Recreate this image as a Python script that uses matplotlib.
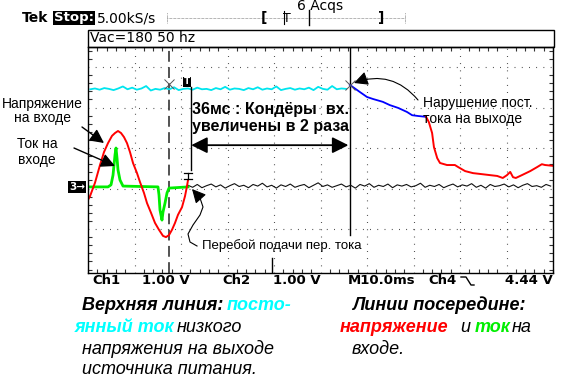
import matplotlib
matplotlib.use("Agg")
import matplotlib.pyplot as plt
import numpy as np
from matplotlib.lines import Line2D
from matplotlib.patches import Rectangle
from matplotlib.ticker import MultipleLocator

# time in ms (10 ms/div), amplitude in divisions (0 = screen centre)
cyan_y = [1.45, 1.47, 1.44, 1.48, 1.46, 1.43, 1.47, 1.52, 1.45, 1.49,
          1.44, 1.47, 1.53, 1.42, 1.46, 1.44, 1.48, 1.45, 1.50, 1.43,
          1.46, 1.47, 1.44, 1.49, 1.45, 1.46, 1.43, 1.48, 1.45, 1.51,
          1.44, 1.47, 1.46, 1.43, 1.48, 1.45, 1.50, 1.44, 1.47, 1.45,
          1.52, 1.43, 1.46, 1.48, 1.44, 1.47, 1.45, 1.49, 1.43, 1.51,
          1.46, 1.44, 1.53, 1.45, 1.47, 1.46]
cyan_t = 0.5 + np.arange(len(cyan_y))

blue_t = [56.3, 58.5, 60.0, 61.3, 63.4, 64.9, 66.7, 68.6, 69.7, 71.0, 72.7]
blue_y = [1.56, 1.38, 1.26, 1.21, 1.14, 1.06, 0.99, 0.89, 0.81, 0.79, 0.77]

red_out_t = [72.7, 73.3, 74.0, 74.4, 75.1, 75.7, 77.2, 78.9, 79.6, 81.1,
             82.8, 84.3, 86.5, 88.0, 89.2, 90.1, 90.8, 91.4, 92.0, 93.3,
             95.1, 96.6, 97.6, 98.3, 100.0]
red_out_y = [0.77, 0.64, 0.37, 0.02, -0.25, -0.37, -0.42, -0.42, -0.47, -0.57,
             -0.62, -0.64, -0.67, -0.69, -0.74, -0.67, -0.59, -0.72, -0.74, -0.67,
             -0.57, -0.47, -0.40, -0.42, -0.44]

volt_t = [0.0, 0.43, 1.5, 2.58, 3.44, 4.30, 5.16, 5.81, 6.45, 7.10,
          7.74, 8.39, 9.03, 9.68, 10.54, 11.18, 12.04, 12.69, 13.55, 14.41,
          15.27, 16.13, 16.77, 17.42, 18.06, 18.71, 19.35, 20.22, 20.86, 21.29,
          21.51]
volt_y = [-1.28, -1.19, -0.86, -0.42, -0.10, 0.12, 0.30, 0.37, 0.42, 0.37,
          0.27, 0.12, -0.10, -0.37, -0.62, -0.84, -1.11, -1.36, -1.60, -1.85,
          -2.02, -2.17, -2.20, -2.15, -2.02, -1.85, -1.65, -1.46, -1.19, -0.94,
          -0.79]

cur_t = [0.0, 4.30, 4.95, 5.38, 5.81, 6.02, 6.24, 6.45, 6.88, 7.53,
         15.05, 15.27, 15.48, 15.91, 16.13, 16.56, 16.99, 17.42, 21.51]
cur_y = [-0.96, -0.96, -0.91, -0.67, -0.17, 0.0, -0.25, -0.54, -0.79, -0.94,
         -0.96, -1.16, -1.53, -1.78, -1.58, -1.36, -1.11, -0.99, -0.96]

black_y = [-0.92, -0.97, -0.90, -0.98, -0.93, -0.89, -0.96, -0.91, -0.99, -0.93,
           -0.88, -0.95, -0.92, -0.98, -0.90, -0.94, -0.87, -0.96, -0.92, -0.99,
           -0.91, -0.95, -0.89, -0.97, -0.93, -0.90, -0.98, -0.92, -0.86, -0.95,
           -0.91, -0.97, -0.93, -0.89, -0.96, -0.92, -0.99, -0.90, -0.94, -0.88,
           -0.97, -0.92, -0.95, -0.89, -0.98, -0.91, -0.94, -0.90, -0.96, -0.93,
           -0.87, -0.97, -0.92, -0.95, -0.90, -0.98, -0.93, -0.89, -0.96, -0.91,
           -0.94, -0.88, -0.97, -0.92, -0.99, -0.90, -0.95, -0.93, -0.89, -0.96,
           -0.91, -0.98, -0.92, -0.88, -0.95, -0.93, -0.97, -0.90, -0.94]
black_t = 21.5 + np.arange(len(black_y))

trig_t = 17.4
cursor_t = 56.3
cursor_bottom = -2.15

W, H = 561, 382
Y0, Y1 = -3.086, 2.494


def fp(px, py):
    return (px / W, 1 - py / H)


fig = plt.figure(figsize=(W / 100, H / 100), dpi=100)
ax = fig.add_axes([88 / W, 1 - 273 / H, 465 / W, 226 / H])
ax.set_xlim(0, 100)
ax.set_ylim(Y0, Y1)

# graticule
ax.set_xticks(np.arange(10, 100, 10))
ax.set_yticks([-2, -1, 0, 1, 2])
ax.grid(True, color='#222222', lw=0.8, linestyle=(0, (0.7, 5.8)))
ax.xaxis.set_minor_locator(MultipleLocator(2))
ax.yaxis.set_minor_locator(MultipleLocator(0.2))
ax.tick_params(which='major', length=0, labelbottom=False, labelleft=False)
ax.tick_params(which='minor', direction='in', length=3, width=0.8,
               top=True, right=True, color='#333333')
for s in ax.spines.values():
    s.set_color('black')
    s.set_linewidth(1.0)

ax.axvline(trig_t, color='#444444', lw=1.3, linestyle=(0, (6, 3)))
ax.axvline(cursor_t, ymin=(cursor_bottom - Y0) / (Y1 - Y0), ymax=1, color='black', lw=1.0)
ax.axvline(39.6, ymin=0, ymax=15 / 226, color='black', lw=1.0)

# traces
ax.plot(black_t, black_y, color='#111111', lw=0.8)
ax.plot(cyan_t, cyan_y, color='#00e5ee', lw=1.3)
ax.plot(blue_t, blue_y, color='#0000ff', lw=1.3)
ax.plot(red_out_t, red_out_y, color='#ff0000', lw=1.4)
ax.plot(cur_t, cur_y, color='#00ee00', lw=2.0)
ax.plot(volt_t, volt_y, color='#ff0000', lw=1.4)

ax.plot([trig_t, cursor_t], [1.58, 1.56], linestyle='none', marker='x',
        ms=7, mew=0.7, color='#555555')

# vertical marker line and span arrow
ax.plot([22.2, 22.2], [1.51, -0.54], color='black', lw=1.0)
ax.annotate('', xy=(cursor_t - 0.3, 0.07), xytext=(22.2, 0.07),
            arrowprops=dict(arrowstyle='<|-|>,head_length=0.7,head_width=0.35',
                            mutation_scale=14, color='black', lw=1.3,
                            shrinkA=0, shrinkB=0))

# top header
fig.text(*fp(22, 18), 'Tek', fontsize=10, fontweight='bold', va='center')
fig.text(*fp(54, 18), 'Stop:', fontsize=9.5, fontweight='bold', color='white',
         va='center', bbox=dict(fc='black', ec='none', pad=0.6))
fig.text(*fp(97, 18), '5.00kS/s', fontsize=10, va='center')
fig.add_artist(Line2D([167 / W, 405 / W], [1 - 18 / H] * 2, transform=fig.transFigure,
                      color='#555555', lw=0.6, linestyle=(0, (0.6, 1.0))))
for bx in [167, 405]:
    fig.add_artist(Line2D([bx / W] * 2, [1 - 13 / H, 1 - 23 / H],
                          transform=fig.transFigure, color='#555555', lw=0.6,
                          linestyle=(0, (0.6, 1.0))))
fig.text(*fp(261, 18), '[', fontsize=10, fontweight='bold', va='center')
fig.text(*fp(378, 18), ']', fontsize=10, fontweight='bold', va='center')
fig.text(*fp(283, 18), 'T', fontsize=9, va='center')
fig.add_artist(Line2D([284 / W] * 2, [1 - 11 / H, 1 - 24 / H],
                      transform=fig.transFigure, color='black', lw=0.8))
fig.add_artist(Line2D([309 / W] * 2, [1 - 10 / H, 1 - 25 / H],
                      transform=fig.transFigure, color='black', lw=1.0))
fig.text(*fp(297, 6), '6 Acqs', fontsize=10, va='center')

# Vac box
fig.patches.append(Rectangle(fp(88, 47), 466 / W, 17 / H, transform=fig.transFigure,
                             fill=False, ec='black', lw=1.0))
fig.text(*fp(90, 38), 'Vac=180 50 hz', fontsize=10, va='center')

# bottom scope readout
for px, s in [(92, 'Ch1'), (142, '1.00 V'), (222, 'Ch2'), (273, '1.00 V'),
              (348, 'M10.0ms'), (428, 'Ch4'), (505, '4.44 V')]:
    fig.text(*fp(px, 281), s, fontsize=9.5, va='center', fontweight='semibold')
fig.add_artist(Line2D([461 / W, 466 / W, 471 / W, 474 / W],
                      [1 - 277 / H, 1 - 277 / H, 1 - 285 / H, 1 - 285 / H],
                      transform=fig.transFigure, color='black', lw=1.0))

# channel 3 ground marker, trigger markers
fig.text(*fp(69, 187), '3\u2192', fontsize=7.5, fontweight='bold', color='white',
         va='center', bbox=dict(fc='black', ec='none', pad=0.4))
fig.text(*fp(184, 82), 'T', fontsize=6.5, fontweight='bold', color='white',
         va='center', bbox=dict(fc='black', ec='none', pad=0.6))
for seg in [((184, 173), (192, 173)), ((184, 179), (192, 179)), ((188, 173), (188, 179))]:
    fig.add_artist(Line2D([seg[0][0] / W, seg[1][0] / W],
                          [1 - seg[0][1] / H, 1 - seg[1][1] / H],
                          transform=fig.transFigure, color='black', lw=0.9))

ann = dict(family='Liberation Sans', fontsize=10)
fig.text(*fp(42, 111), 'Напряжение\nна входе', ha='center', va='center',
         linespacing=1.0, **ann)
fig.text(*fp(37, 152), 'Ток на\nвходе', ha='center', va='center',
         linespacing=1.15, **ann)
fig.text(*fp(192, 118), '36мс : Кондёры  вх.\nувеличены в 2 раза', va='center',
         family='Liberation Sans', fontsize=11.5, fontweight='bold', linespacing=1.1)
fig.text(*fp(423, 111), 'Нарушение пост.\nтока на выходе', va='center',
         linespacing=1.15, **ann)
fig.text(*fp(202, 246), 'Перебой подачи пер. тока', va='center',
         family='Liberation Sans', fontsize=9.5)

arrow = dict(arrowstyle='-|>,head_length=0.6,head_width=0.3', mutation_scale=14,
             color='black', lw=1.0, shrinkA=0, shrinkB=0)
fig.add_artist(plt.Annotation('', xy=fp(104, 143), xytext=fp(82, 127),
                              xycoords='figure fraction', arrowprops=arrow))
fig.add_artist(plt.Annotation('', xy=fp(115, 166), xytext=fp(74, 148),
                              xycoords='figure fraction', arrowprops=arrow))
thin = dict(arrow, lw=0.8, connectionstyle='arc3,rad=0.35')
fig.add_artist(plt.Annotation('', xy=fp(354, 83), xytext=fp(418, 100),
                              xycoords='figure fraction', arrowprops=thin))
curve = [(197, 246), (190, 242), (188, 234), (193, 225), (200, 215), (203, 207), (200, 198)]
fig.add_artist(Line2D([c[0] / W for c in curve], [1 - c[1] / H for c in curve],
                      transform=fig.transFigure, color='black', lw=0.8))
fig.add_artist(plt.Annotation('', xy=fp(192, 189), xytext=fp(200, 198),
                              xycoords='figure fraction',
                              arrowprops=dict(arrow, lw=0.8)))

# captions below the screen
bi = dict(family='Liberation Sans', fontsize=13, fontweight='bold',
          fontstyle='italic', va='center')
it = dict(family='Liberation Sans', fontsize=13, fontstyle='italic', va='center')
fig.text(*fp(82, 305), 'Верхняя линия:', **bi)
fig.text(*fp(227, 305), 'посто-', color='#00ffff', **bi)
fig.text(*fp(75, 327), 'янный ток', color='#00ffff', **bi)
fig.text(*fp(177, 327), 'низкого', **it)
fig.text(*fp(82, 349), 'напряжения на выходе', **it)
fig.text(*fp(82, 370), 'источника питания.', **it)
fig.text(*fp(352, 305), 'Линии посередине:', **bi)
fig.text(*fp(340, 327), 'напряжение', color='#ff0000', **bi)
fig.text(*fp(460, 327), 'и', **it)
fig.text(*fp(475, 327), 'ток', color='#00ee00', **bi)
fig.text(*fp(512, 327), 'на', **it)
fig.text(*fp(352, 349), 'входе.', **it)

fig.savefig('out.png', dpi=100)
